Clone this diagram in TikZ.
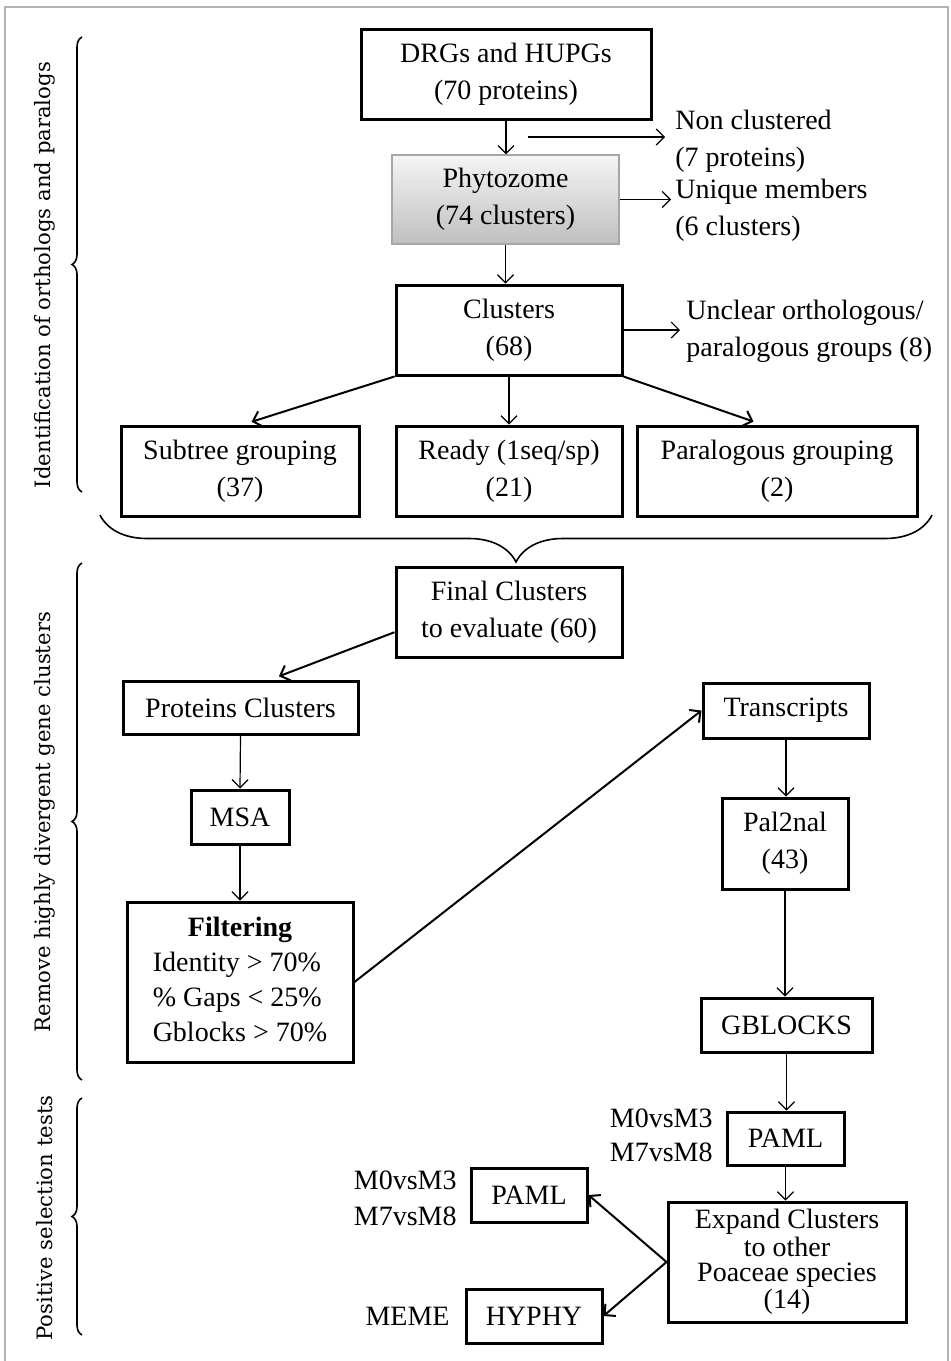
\documentclass[tikz,border=0pt]{standalone}
\usepackage{fontspec}
\setmainfont{Liberation Serif}
\newfontfamily\sidefont{DejaVu Serif}
\usetikzlibrary{decorations.pathreplacing, arrows.meta}

\begin{document}
\begin{tikzpicture}[x=0.5pt, y=-0.5pt,
        box/.style={rectangle, draw, line width=1.5pt, align=center, inner sep=0pt, font=\fontsize{14}{18.5}\selectfont},
        note/.style={align=left, inner sep=0pt, font=\fontsize{14}{18.5}\selectfont},
        arrow/.style={-{Straight Barb[length=4pt, width=8pt]}, line width=0.6pt},
        bigarrow/.style={-{Straight Barb[length=4pt, width=8pt]}, line width=1pt},
        sidebrace/.style={decorate, decoration={brace, amplitude=5pt}, line width=0.8pt},
        sidelabel/.style={rotate=90, font=\sidefont\fontsize{10.6}{12}\selectfont}
    ]
        \useasboundingbox (0,0) rectangle (951,1361);
        \draw[gray!60, line width=1pt] (5,1370) -- (5,7) -- (948,7) -- (948,1370);

        % Orthologs and paralogs
        \node[box, minimum width=145pt, minimum height=45pt] (drgs) at (506,74) {DRGs and HUPGs\\(70 proteins)};
        \node[box, draw=gray!70, line width=0.6pt, top color=gray!8, bottom color=gray!50, minimum width=113.5pt, minimum height=44.5pt] (phyto) at (505.5,199.5) {Phytozome\\(74 clusters)};
        \node[box, minimum width=113pt, minimum height=45pt] (clusters) at (509,330) {Clusters\\(68)};
        \node[box, minimum width=119pt, minimum height=45pt] (subtree) at (240,471) {Subtree grouping\\(37)};
        \node[box, minimum width=113pt, minimum height=45pt] (ready) at (509,471) {Ready (1seq/sp)\\(21)};
        \node[box, minimum width=140pt, minimum height=45pt] (paralog) at (777,471) {Paralogous grouping\\(2)};

        \node[note, anchor=west] (nonclust) at (675,141) {Non clustered\\(7 proteins)};
        \node[note, anchor=west] (unique) at (675,210) {Unique members\\(6 clusters)};
        \node[note, anchor=west] (unclear) at (686,331) {Unclear orthologous/\\paralogous groups (8)};
        \coordinate (ncstart) at (528,137);

        \draw[arrow] (drgs.south) -- (drgs.south |- phyto.north);
        \draw[arrow, shorten >=5pt] (ncstart) -- (nonclust.west |- ncstart);
        \draw[arrow, shorten >=2pt] (phyto.east) -- (unique.west |- phyto.east);
        \draw[arrow] (phyto.south) -- (phyto.south |- clusters.north);
        \draw[arrow, shorten >=3pt] (clusters.east) -- (unclear.west |- clusters.east);
        \draw[bigarrow, shorten >=4.5pt] (clusters.south west) -- ([xshift=1.5pt]subtree.north);
        \draw[arrow] (clusters.south) -- (ready.north);
        \draw[bigarrow, shorten >=4.5pt] (clusters.south east) -- ([xshift=-7.5pt]paralog.north);

        % Divergent clusters
        \node[box, minimum width=113pt, minimum height=45pt] (final) at (509,612) {Final Clusters\\to evaluate (60)};
        \node[box, minimum width=117.5pt, minimum height=26.5pt] (proteins) at (240.5,707.5) {Proteins Clusters};
        \node[box, minimum width=49pt, minimum height=27pt] (msa) at (240,817) {MSA};
        \node[box, minimum width=113pt, minimum height=80pt, font=\fontsize{14}{17.5}\selectfont] (filtering) at (240,982)
            {\begin{tabular}{@{}l@{}}\multicolumn{1}{@{}c@{}}{\textbf{Filtering}}\\Identity > 70\%\\\% Gaps < 25\%\\Gblocks > 70\%\end{tabular}};
        \node[box, minimum width=83pt, minimum height=27.5pt] (transcripts) at (786,710.5) {Transcripts};
        \node[box, minimum width=63pt, minimum height=45.5pt] (pal2nal) at (785,843.5) {Pal2nal\\(43)};
        \node[box, minimum width=85.5pt, minimum height=27pt] (gblocks) at (786.5,1025) {GBLOCKS};

        \draw[bigarrow, shorten >=4.5pt] (final.190) -- ([xshift=15pt]proteins.north);
        \draw[arrow] (proteins.south) -- (msa.north);
        \draw[arrow] (msa.south) -- (filtering.north);
        \draw[bigarrow] (filtering.east) -- (transcripts.west);
        \draw[arrow] (transcripts.south) -- (transcripts.south |- pal2nal.north);
        \draw[arrow] (pal2nal.south) -- (pal2nal.south |- gblocks.north);

        % Positive selection
        \node[box, minimum width=58.5pt, minimum height=26.5pt] (paml1) at (785.5,1138.5) {PAML};
        \node[box, minimum width=119pt, minimum height=60pt, font=\fontsize{14}{12.5}\selectfont] (expand) at (787,1262) {Expand Clusters\\to other\\Poaceae species\\(14)};
        \node[box, minimum width=58pt, minimum height=27pt] (paml2) at (529,1195) {PAML};
        \node[box, minimum width=68pt, minimum height=27pt] (hyphy) at (534,1316) {HYPHY};

        \node[note, align=right, anchor=east, font=\fontsize{14}{17}\selectfont] (models1) at (713,1135) {M0vsM3\\M7vsM8};
        \node[note, align=right, anchor=east, font=\fontsize{14}{18}\selectfont] (models2) at (457,1198) {M0vsM3\\M7vsM8};
        \node[note, anchor=east] (meme) at (450,1316) {MEME};

        \draw[arrow] (gblocks.south) -- (gblocks.south |- paml1.north);
        \draw[arrow] (paml1.south) -- (paml1.south |- expand.north);
        \draw[bigarrow] (expand.west) -- (paml2.east);
        \draw[bigarrow] (expand.west) -- (hyphy.east);

        % Braces
        \draw[decorate, decoration={brace, amplitude=23.5pt}, line width=0.8pt] (932,515) -- (100,515);
        \draw[sidebrace] (82,492) -- (82,37);
        \draw[sidebrace] (82,1080) -- (82,563);
        \draw[sidebrace] (82,1335) -- (82,1098);

        \node[sidelabel] (ortho) at (45,275) {Identification of orthologs and paralogs};
        \node[sidelabel] (diverg) at (45,822) {Remove highly divergent gene clusters};
        \node[sidelabel] (positive) at (45,1218) {Positive selection tests};
    \end{tikzpicture}
\end{document}
